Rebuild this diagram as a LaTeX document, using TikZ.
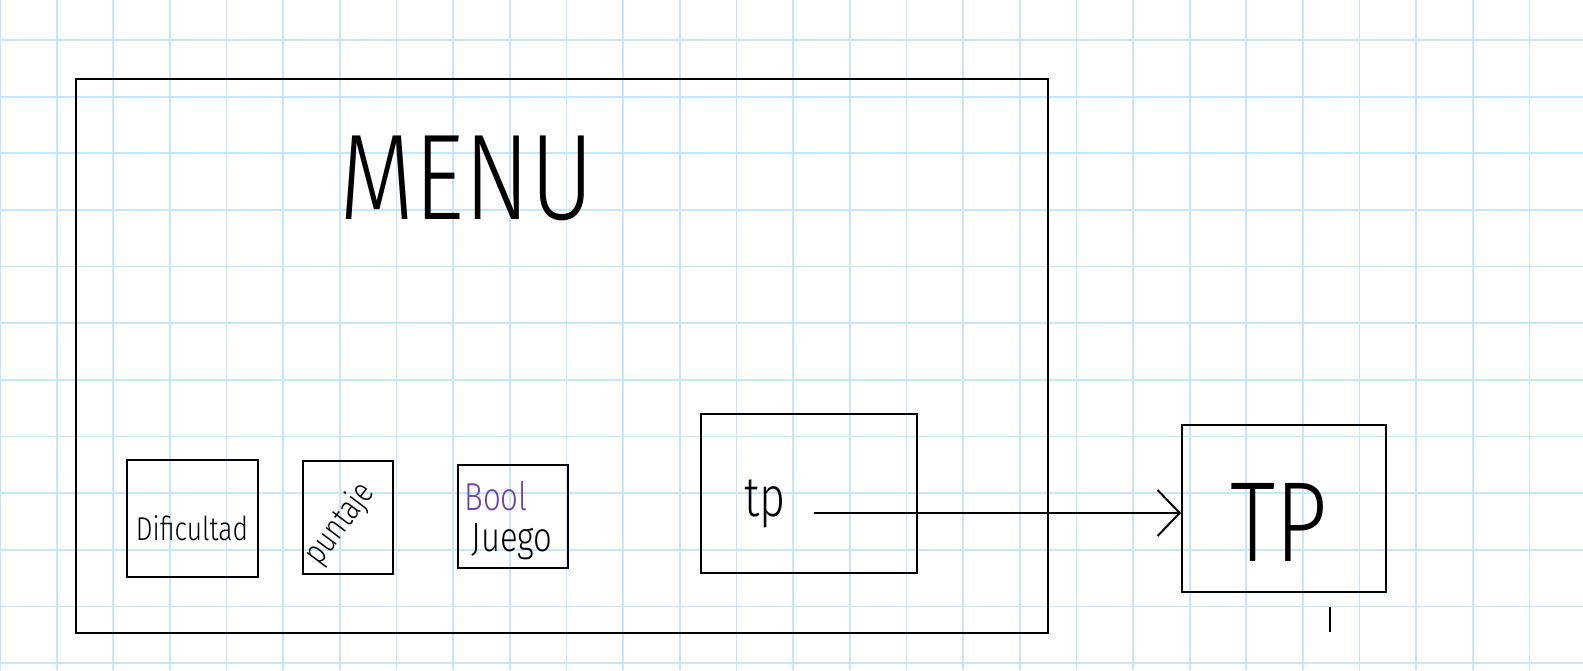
\documentclass[tikz,border=0pt]{standalone}
\usepackage{fontspec}
\usetikzlibrary{arrows.meta}
\newfontfamily\handfont[FakeStretch=0.8]{Fira Sans Light}
\newcommand{\penfont}[1]{\handfont\fontsize{#1}{#1}\selectfont}
\definecolor{gridblue}{RGB}{198,231,250}
\definecolor{boolpurple}{RGB}{112,64,168}
\tikzset{
    gridline/.style={draw=gridblue, line width=1.7pt},
    pen/.style={line width=2pt},
    sketchbox/.style={draw, line width=2pt, inner sep=0pt},
    hand/.style={inner sep=0pt},
}
\begin{document}
\begin{tikzpicture}[x=1pt, y=-1pt, >={Straight Barb[length=22pt,width=46pt]}]
    \useasboundingbox (0,0) rectangle (1583,670);
    \fill[white] (0,0) rectangle (1583,670);

    % Draw the squared paper
    \foreach \gx in {0,...,27}
        \draw[gridline] ({\gx*56.65},0) -- ({\gx*56.65},670);
    \foreach \gy in {0,...,11}
        \draw[gridline] (0,{40+\gy*56.65}) -- (1583,{40+\gy*56.65});

    % Draw the menu frame and its title
    \node[sketchbox, minimum width=972pt, minimum height=554pt] (menubox) at (562,356) {};
    \node[hand, font=\penfont{122}] (menu) at (467,178) {MENU};

    % Draw the small boxes inside the menu
    \node[sketchbox, minimum width=131pt, minimum height=117pt] (difbox) at (192.5,518.5) {};
    \node[hand, font=\penfont{33}] (dif) at (192,528) {Dificultad};

    \node[sketchbox, minimum width=90pt, minimum height=113pt] (ptsbox) at (348,517.5) {};
    \node[hand, font=\penfont{34}, rotate=53] (pts) at (340,524) {puntaje};

    \node[sketchbox, minimum width=110pt, minimum height=103pt] (juegobox) at (513,516.5) {};
    \node[hand, font=\penfont{39}, text=boolpurple] (bool) at (496,496) {Bool};
    \node[hand, font=\penfont{41}] (juego) at (512,542) {Juego};

    \node[sketchbox, minimum width=216pt, minimum height=159pt] (tpbox) at (809,493.5) {};
    \node[hand, font=\penfont{56}] (tp) at (765,504) {tp};

    % Draw the box outside the menu
    \node[sketchbox, minimum width=204pt, minimum height=167pt] (TPbox) at (1284,508.5) {};
    \node[hand, font=\penfont{114}] (TP) at (1279,522) {TP};

    % Draw the arrow from tp to TP
    \coordinate (tpout) at (814,513);
    \draw[pen, ->] (tpout) -- (tpout -| TPbox.west);

    % Stray pen mark under TP
    \draw[pen] (1330,607) -- (1330,632);
\end{tikzpicture}
\end{document}
